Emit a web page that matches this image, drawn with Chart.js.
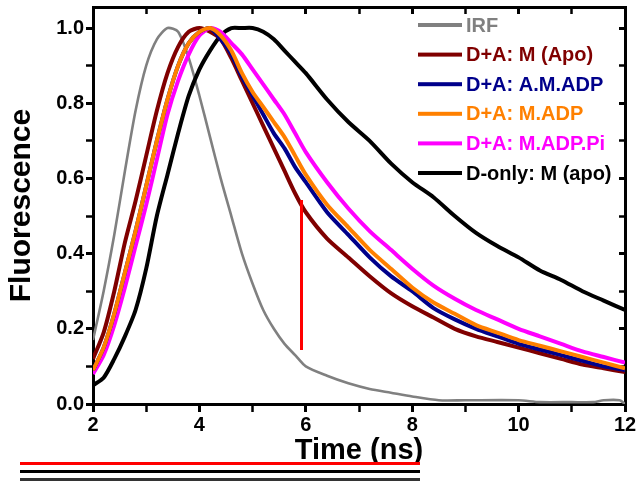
<!DOCTYPE html>
<html>
<head>
<meta charset="utf-8">
<script src="https://cdn.jsdelivr.net/npm/chart.js@4.4.1/dist/chart.umd.min.js"></script>
<style>
  html, body { margin: 0; padding: 0; background: #fff; }
</style>
</head>
<body>
<canvas id="c" width="642" height="486"></canvas>
<script>
// ---- data ----
const seriesLabels = ["IRF", "D+A: M (Apo)", "D+A: A.M.ADP", "D+A: M.ADP", "D+A: M.ADP.Pi", "D-only: M (apo)"];
const seriesColors = ["#808080", "#800000", "#00008B", "#FF8000", "#FF00FF", "#000000"];

const irfTime = [2.0,2.2,2.4,2.6,2.8,3.0,3.2,3.4,3.6,3.8,4.0,4.2,4.4,4.6,4.8,5.0,5.2,5.4,5.6,5.8,6.0,6.4,6.8,7.2,7.6,8.0,8.5,9.0,10.0,10.4,11.0,11.4,11.6,11.9,12.0];
const irf     = [0.17,0.30,0.45,0.62,0.78,0.90,0.97,1.00,0.99,0.92,0.82,0.71,0.60,0.50,0.40,0.32,0.25,0.20,0.16,0.13,0.10,0.075,0.055,0.04,0.03,0.02,0.01,0.01,0.01,0.005,0.005,0.005,0.01,0.01,0.0];

const time = [2.0,2.2,2.4,2.6,2.8,3.0,3.2,3.4,3.6,3.8,4.0,4.2,4.4,4.6,4.8,5.0,5.2,5.4,5.6,5.8,6.0,6.4,6.8,7.2,7.6,8.0,8.4,8.8,9.2,9.6,10.0,10.4,10.8,11.2,11.6,12.0];
const mApo   = [0.12,0.19,0.30,0.43,0.54,0.66,0.78,0.88,0.95,0.99,1.00,0.99,0.97,0.92,0.86,0.80,0.74,0.68,0.62,0.56,0.51,0.44,0.39,0.34,0.295,0.26,0.23,0.20,0.18,0.165,0.15,0.135,0.12,0.105,0.095,0.085];
const amAdp  = [0.09,0.15,0.24,0.35,0.46,0.58,0.70,0.81,0.90,0.96,0.99,1.00,0.97,0.93,0.87,0.82,0.77,0.72,0.68,0.63,0.59,0.51,0.45,0.39,0.34,0.30,0.255,0.225,0.20,0.18,0.16,0.145,0.13,0.115,0.10,0.09];
const mAdp   = [0.09,0.15,0.24,0.35,0.46,0.58,0.70,0.81,0.90,0.96,0.99,1.00,0.98,0.94,0.88,0.83,0.79,0.75,0.71,0.66,0.61,0.53,0.47,0.41,0.36,0.31,0.27,0.24,0.21,0.19,0.17,0.155,0.14,0.125,0.11,0.095];
const mAdpPi = [0.08,0.13,0.21,0.31,0.42,0.53,0.65,0.77,0.86,0.93,0.98,1.00,0.99,0.96,0.93,0.89,0.85,0.81,0.77,0.72,0.67,0.59,0.52,0.46,0.41,0.36,0.315,0.28,0.25,0.225,0.20,0.18,0.16,0.14,0.125,0.11];
const dOnly  = [0.05,0.07,0.12,0.18,0.25,0.36,0.50,0.61,0.72,0.82,0.89,0.94,0.98,1.00,1.00,1.00,0.99,0.97,0.94,0.91,0.88,0.81,0.75,0.70,0.64,0.59,0.55,0.50,0.455,0.42,0.39,0.355,0.33,0.30,0.275,0.25];

const xTickMarks = [2, 3, 4, 5, 6, 7, 8, 9, 10, 11, 12];
const xTickLabels = [2, 4, 6, 8, 10, 12];
const yTickMarks = [0.0, 0.1, 0.2, 0.3, 0.4, 0.5, 0.6, 0.7, 0.8, 0.9, 1.0];
const yTickLabels = [0.0, 0.2, 0.4, 0.6, 0.8, 1.0];

const toPoints = (tt, vv) => tt.map((t, i) => ({ x: t, y: vv[i] }));
const allSeries = [toPoints(irfTime, irf), toPoints(time, mApo), toPoints(time, amAdp), toPoints(time, mAdp), toPoints(time, mAdpPi), toPoints(time, dOnly)];
const drawOrder = [5, 3, 1, 0, 2, 4];
const datasets = allSeries.map((d, i) => ({
  label: seriesLabels[i],
  data: d,
  xAxisID: 'x',
  yAxisID: 'y',
  borderColor: seriesColors[i],
  backgroundColor: seriesColors[i],
  borderWidth: i === 0 ? 2.6 : 4,
  pointRadius: 0,
  tension: 0.25,
  fill: false,
  order: drawOrder[i]
}));

const FONT = "'Liberation Sans', Arial, sans-serif";
const isLabelX = v => xTickLabels.some(t => Math.abs(t - v) < 1e-6);
const isLabelY = v => yTickLabels.some(t => Math.abs(t - v) < 1e-6);

const legendPlugin = {
  id: 'insideLegend',
  afterDraw(chart) {
    const ctx = chart.ctx;
    ctx.save();
    ctx.font = "bold 20px " + FONT;
    ctx.textBaseline = 'middle';
    ctx.textAlign = 'left';
    chart.data.datasets.forEach((ds, i) => {
      const y = 25 + i * 29.6;
      ctx.fillStyle = ds.borderColor;
      ctx.fillRect(418, y - 2, 44, 4);
      ctx.fillText(ds.label, 466, y + 1);
    });
    // debug probes
    ctx.fillStyle = '#000000';
    ctx.fillRect(20, 470, 400, 3);
    ctx.fillStyle = '#333333';
    ctx.fillRect(20, 478, 400, 3);
    ctx.fillStyle = '#ff0000';
    ctx.fillRect(20, 462, 400, 3);
    ctx.fillStyle = '#ff0000';
    ctx.fillRect(300, 200, 3, 150);
    ctx.restore();
  }
};

const gridCommon = (len) => ({
  display: true,
  drawOnChartArea: false,
  drawTicks: true,
  tickLength: len,
  tickColor: '#000000',
  tickWidth: ctx => (ctx.tick && (isLabelX(ctx.tick.value) || isLabelY(ctx.tick.value)) ? 3 : 2.5)
});
const borderCommon = { display: true, color: '#000000', width: 3 };

new Chart(document.getElementById('c'), {
  type: 'line',
  data: { datasets: datasets },
  options: {
    responsive: false,
    animation: false,
    layout: { padding: { top: 7, right: 17, left: 0, bottom: 0 } },
    plugins: { legend: { display: false }, tooltip: { enabled: false } },
    scales: {
      x: {
        type: 'linear', position: 'bottom', min: 2, max: 12,
        afterBuildTicks: s => { s.ticks = xTickMarks.map(v => ({ value: v })); },
        afterFit: s => { s.height = 82; s.paddingLeft = 0; s.paddingRight = 0; },
        ticks: { color: '#000', font: { family: FONT, weight: 'bold', size: 20 }, padding: 1, maxRotation: 0, autoSkip: false,
                 callback: v => (isLabelX(v) ? String(v) : '') },
        grid: gridCommon(8),
        border: borderCommon,
        title: { display: true, text: 'Time (ns)', color: '#000', font: { family: FONT, weight: 'bold', size: 29 }, padding: { top: 0, bottom: 18 } }
      },
      x2: {
        type: 'linear', position: 'top', min: 2, max: 12,
        afterBuildTicks: s => { s.ticks = xTickMarks.map(v => ({ value: v })); },
        afterFit: s => { s.height = 0; s.paddingLeft = 0; s.paddingRight = 0; },
        ticks: { display: false },
        grid: gridCommon(-7),
        border: borderCommon
      },
      y: {
        type: 'linear', position: 'left', min: 0, max: 1.056,
        afterBuildTicks: s => { s.ticks = yTickMarks.map(v => ({ value: v })); },
        afterFit: s => { s.width = 93; s.paddingTop = 0; s.paddingBottom = 0; },
        ticks: { color: '#000', font: { family: FONT, weight: 'bold', size: 20 }, padding: 2, autoSkip: false,
                 callback: v => (isLabelY(v) ? Number(v).toFixed(1) : '') },
        grid: gridCommon(7),
        border: borderCommon,
        title: { display: true, text: 'Fluorescence', color: '#000', font: { family: FONT, weight: 'bold', size: 30 }, padding: { bottom: 0 } }
      },
      y2: {
        type: 'linear', position: 'right', min: 0, max: 1.056,
        afterBuildTicks: s => { s.ticks = yTickMarks.map(v => ({ value: v })); },
        afterFit: s => { s.width = 0; s.paddingTop = 0; s.paddingBottom = 0; },
        ticks: { display: false },
        grid: gridCommon(-6),
        border: borderCommon
      }
    }
  },
  plugins: [legendPlugin]
});
</script>
</body>
</html>
